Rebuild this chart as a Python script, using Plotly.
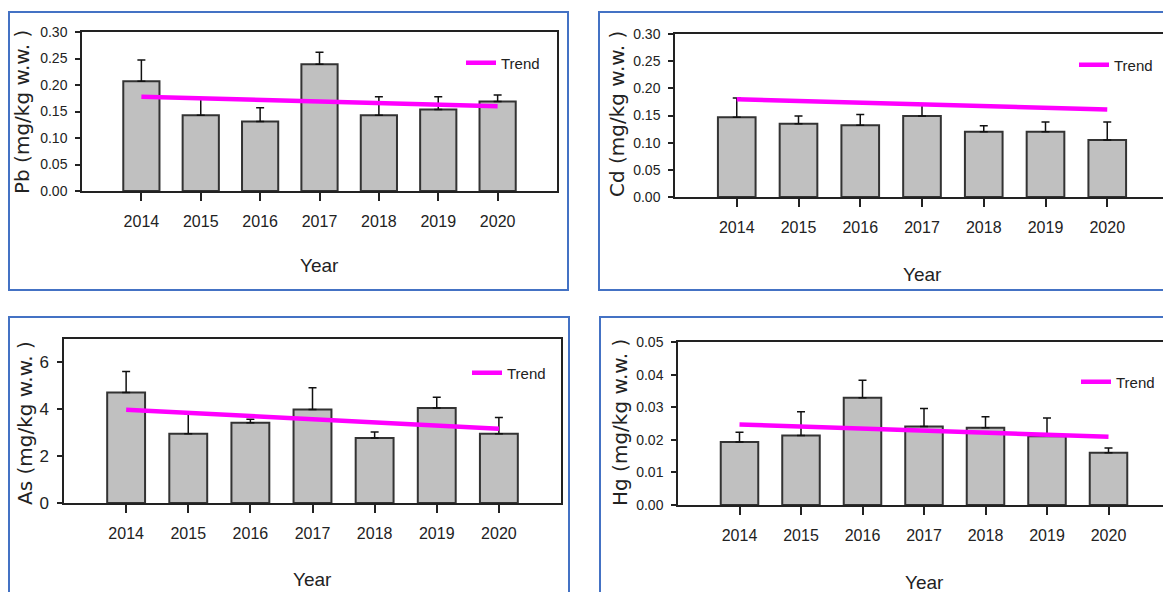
import plotly.graph_objects as go

years = [2014, 2015, 2016, 2017, 2018, 2019, 2020]
year_labels = ["2014", "2015", "2016", "2017", "2018", "2019", "2020"]

# Pb
pb_mean = [0.207, 0.143, 0.131, 0.239, 0.143, 0.154, 0.169]
pb_sd = [0.040, 0.032, 0.026, 0.023, 0.035, 0.024, 0.012]
pb_trend = [0.178, 0.175, 0.172, 0.169, 0.166, 0.163, 0.160]

# Cd
cd_mean = [0.147, 0.135, 0.132, 0.149, 0.120, 0.120, 0.105]
cd_sd = [0.035, 0.014, 0.020, 0.020, 0.011, 0.018, 0.033]
cd_trend = [0.180, 0.177, 0.174, 0.171, 0.167, 0.164, 0.161]

# As
as_mean = [4.72, 2.96, 3.43, 3.99, 2.77, 4.05, 2.96]
as_sd = [0.89, 0.85, 0.14, 0.93, 0.26, 0.46, 0.69]
as_trend = [3.98, 3.85, 3.71, 3.58, 3.44, 3.31, 3.17]

# Hg
hg_mean = [0.0193, 0.0213, 0.0329, 0.0241, 0.0237, 0.0211, 0.0160]
hg_sd = [0.0030, 0.0073, 0.0054, 0.0055, 0.0034, 0.0056, 0.0015]
hg_trend = [0.0247, 0.0241, 0.0234, 0.0228, 0.0222, 0.0215, 0.0209]

W, H = 1171, 592
# the page body has an 8px margin, so page pixels are shifted back by it
OX, OY = 8, 8
FONT = "Liberation Sans, Arial, sans-serif"
INK = "#222222"
FRAME = "#4472C4"


def fx(v):
    return (v - OX) / W


def fy(v):
    return 1 - (v - OY) / H


# page-pixel layout of each panel: plot box (l, t, r, b), outer frame, title spots, legend spot
panels = [
    dict(elem="Pb", mean=pb_mean, sd=pb_sd, trend=pb_trend,
         yrange=[0, 0.30], dtick=0.05, fmt=".2f", yfont=14,
         plot=(82, 32, 557, 191), frame=(9, 12, 568, 290),
         ytitle=(22, 112), xtitle=266, legend=(461, 63)),
    dict(elem="Cd", mean=cd_mean, sd=cd_sd, trend=cd_trend,
         yrange=[0, 0.30], dtick=0.05, fmt=".2f", yfont=14,
         plot=(675, 34, 1169, 197), frame=(599, 12, 1185, 290),
         ytitle=(617, 114), xtitle=274, legend=(1074, 65)),
    dict(elem="As", mean=as_mean, sd=as_sd, trend=as_trend,
         yrange=[0, 7], dtick=2, fmt="d", yfont=17,
         plot=(64, 339, 561, 503), frame=(9, 317, 569, 605),
         ytitle=(25, 423), xtitle=579, legend=(467, 373)),
    dict(elem="Hg", mean=hg_mean, sd=hg_sd, trend=hg_trend,
         yrange=[0, 0.05], dtick=0.01, fmt=".2f", yfont=14,
         plot=(678, 342, 1170, 505), frame=(600, 317, 1185, 605),
         ytitle=(620, 423), xtitle=582, legend=(1076, 382)),
]

fig = go.Figure()
shapes = []
annotations = []

for i, p in enumerate(panels, start=1):
    sfx = "" if i == 1 else str(i)
    leg = "legend" + sfx
    l, t, r, b = p["plot"]

    fig.add_trace(go.Bar(
        x=years, y=p["mean"], width=0.61,
        marker=dict(color="#C0C0C0", line=dict(color="#333333", width=2)),
        error_y=dict(type="data", symmetric=False, array=p["sd"],
                     arrayminus=[0] * len(years), color="#111111", thickness=1.5, width=4),
        showlegend=False, xaxis="x" + sfx, yaxis="y" + sfx,
    ))
    fig.add_trace(go.Scatter(
        x=years, y=p["trend"], mode="lines", name="Trend",
        line=dict(color="#FF00FF", width=4.5),
        xaxis="x" + sfx, yaxis="y" + sfx, legend=leg,
    ))

    axis_common = dict(showline=True, linecolor=INK, linewidth=1.5, mirror=True,
                       ticks="outside", tickcolor=INK, tickwidth=1.5,
                       showgrid=False, zeroline=False, automargin=False)
    fig.update_layout(**{
        "xaxis" + sfx: dict(axis_common, domain=[fx(l), fx(r)], anchor="y" + sfx,
                            range=[2013, 2021], tickvals=years, ticktext=year_labels,
                            ticklen=8, ticklabelstandoff=7,
                            tickfont=dict(family=FONT, size=16, color=INK)),
        "yaxis" + sfx: dict(axis_common, domain=[fy(b), fy(t)], anchor="x" + sfx,
                            range=p["yrange"], dtick=p["dtick"], tick0=0,
                            tickformat=p["fmt"], ticklen=5, ticklabelstandoff=5,
                            tickfont=dict(family=FONT, size=p["yfont"], color=INK)),
        leg: dict(x=fx(p["legend"][0]), y=fy(p["legend"][1]),
                  xanchor="left", yanchor="middle", bgcolor="rgba(0,0,0,0)",
                  borderwidth=0, itemwidth=30,
                  font=dict(family=FONT, size=15, color=INK)),
    })

    fl, ft, fr, fb = p["frame"]
    shapes.append(dict(type="rect", xref="paper", yref="paper",
                       x0=fx(fl), x1=fx(fr), y0=fy(fb), y1=fy(ft),
                       line=dict(color=FRAME, width=2), layer="below"))

    annotations.append(dict(text="Year", xref="paper", yref="paper",
                            x=fx((l + r) / 2), y=fy(p["xtitle"]),
                            showarrow=False, xanchor="center", yanchor="middle",
                            font=dict(family=FONT, size=19, color=INK)))
    annotations.append(dict(text=p["elem"] + " (mg/kg w.w. )", xref="paper", yref="paper",
                            x=fx(p["ytitle"][0]), y=fy(p["ytitle"][1]),
                            textangle=-90, showarrow=False,
                            xanchor="center", yanchor="middle",
                            font=dict(family="DejaVu Sans", size=20, color=INK)))

fig.update_layout(
    width=W, height=H, autosize=False,
    margin=dict(l=0, r=0, t=0, b=0, autoexpand=False),
    paper_bgcolor="white", plot_bgcolor="white",
    barmode="overlay",
    shapes=shapes, annotations=annotations,
)

fig.write_html("out.html")
